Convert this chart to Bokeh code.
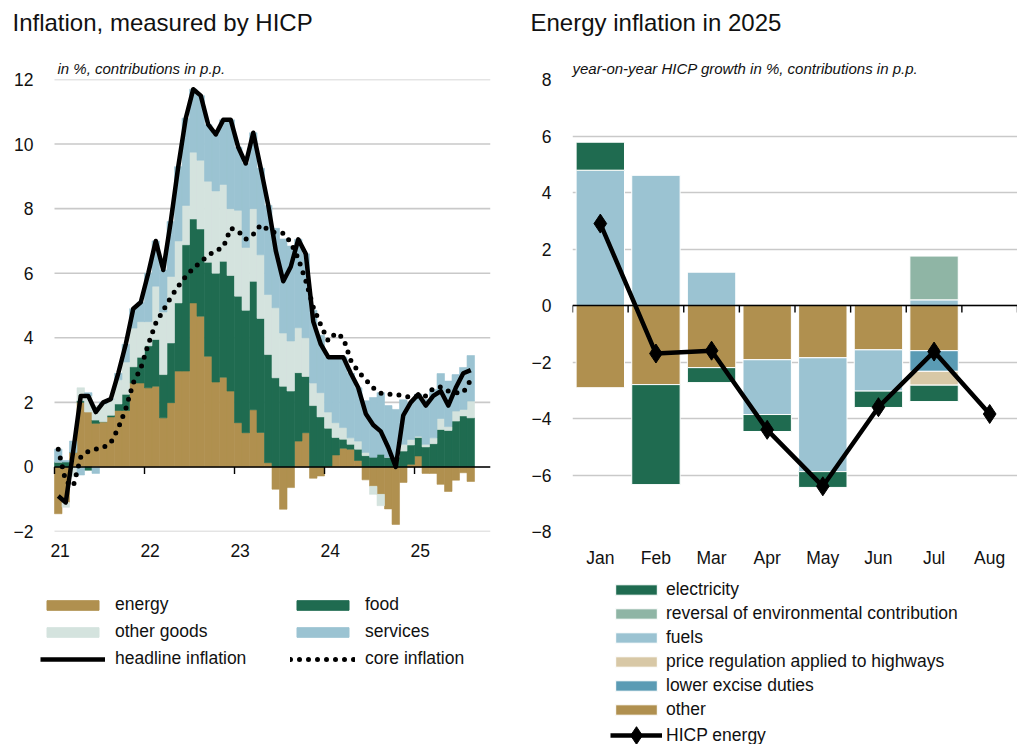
import numpy as np
from bokeh.plotting import figure
from bokeh.models import Legend, LegendItem, FixedTicker, Range1d
from bokeh.layouts import row, column
from bokeh.embed import file_html
from bokeh.resources import INLINE

FONT = "Liberation Sans"
TXT = "#111111"

# ---------------- LEFT CHART DATA (monthly, Jan 2021 - Aug 2025) ----------------
year_labels = ["21", "22", "23", "24", "25"]
energy = [-1.45, -1.1, 0.45, 2.0, 1.7, 1.35, 1.4, 1.55, 1.75, 1.75, 2.6, 2.6,
          2.45, 2.5, 1.52, 1.99, 2.97, 2.97, 5.08, 4.67, 3.43, 2.63, 2.78, 2.35,
          1.37, 1.06, 1.77, 1.07, 0.13, -0.69, -1.31, -0.64, 0.8, 1.06, -0.35, -0.28,
          0.02, 0.37, 0.58, 0.55, 0.2, -0.4, -0.6, -0.85, -1.3, -1.78, -0.48, 0.08,
          0.34, -0.2, -0.2, -0.54, -0.76, -0.41, -0.18, -0.45]
food = [0.15, 0.15, 0.0, 0.05, -0.1, 0.1, 0.0, 0.05, 0.2, 0.5, 0.5, 0.8,
        1.3, 1.45, 1.34, 1.85, 2.11, 3.91, 2.6, 2.7, 2.91, 3.37, 3.59, 3.58,
        3.92, 3.79, 3.98, 3.53, 3.35, 2.76, 2.5, 2.35, 2.12, 1.74, 1.9, 1.55,
        1.18, 0.54, 0.28, 0.15, 0.35, 0.35, 0.3, 0.39, 0.3, 0.31, 0.49, 0.6,
        0.57, 0.62, 0.72, 1.16, 1.13, 1.42, 1.58, 1.52]
other_goods = [0.0, -0.15, -0.3, 0.4, 0.5, 0.45, 0.55, 0.5, 0.75, 1.0, 1.2, 1.1,
               0.75, 1.65, 1.94, 2.06, 1.92, 1.22, 2.07, 2.13, 2.51, 2.55, 2.38, 2.07,
               2.66, 1.95, 2.25, 1.97, 1.86, 2.17, 1.65, 1.55, 1.39, 1.2, 0.7, 0.75,
               0.5, 0.46, 0.36, 0.2, 0.25, 0.1, -0.25, -0.35, 0.0, 0.0, 0.21, 0.17,
               0.04, 0.08, 0.18, 0.34, 0.12, 0.31, 0.2, 0.52]
services = [0.4, 0.05, 0.35, -0.25, 0.1, -0.2, 0.05, 0.0, 0.2, 0.55, 0.6, 0.6,
            1.5, 1.4, 1.3, 1.7, 2.3, 2.7, 1.95, 2.0, 1.75, 1.75, 2.0, 2.75,
            1.95, 2.6, 2.35, 2.68, 2.76, 2.46, 2.91, 2.94, 2.74, 2.6, 2.25, 1.78,
            1.7, 2.03, 2.18, 2.0, 1.65, 1.6, 1.85, 1.91, 1.6, 1.47, 1.38, 1.15,
            1.3, 1.4, 1.5, 1.39, 1.41, 1.13, 1.3, 1.41]
headline = [-0.9, -1.1, 0.5, 2.2, 2.2, 1.7, 2.0, 2.1, 2.9, 3.8, 4.9, 5.1,
            6.0, 7.0, 6.1, 7.6, 9.3, 10.8, 11.7, 11.5, 10.6, 10.3, 10.75, 10.75,
            9.9, 9.4, 10.35, 9.25, 8.1, 6.7, 5.75, 6.2, 7.05, 6.6, 4.5, 3.8,
            3.4, 3.4, 3.4, 2.9, 2.45, 1.65, 1.3, 1.1, 0.6, 0.0, 1.6, 2.0,
            2.25, 1.9, 2.2, 2.35, 1.9, 2.45, 2.9, 3.0]
core = [0.55, -0.45, -0.6, 0.3, 0.48, 0.55, 0.6, 0.75, 1.2, 1.8, 2.6, 3.05,
        3.8, 4.45, 4.85, 5.25, 5.6, 5.9, 6.15, 6.35, 6.55, 6.7, 6.8, 7.4,
        7.3, 7.05, 7.2, 7.5, 7.35, 7.24, 7.24, 6.95, 6.45, 5.77, 4.95, 4.4,
        3.9, 4.15, 4.0, 3.3, 2.95, 2.7, 2.45, 2.28, 2.25, 2.25, 2.2, 2.15,
        2.2, 2.2, 2.43, 2.48, 2.35, 2.3, 2.3, 2.7]

# ---------------- RIGHT CHART DATA (2025) ----------------
months = ["Jan", "Feb", "Mar", "Apr", "May", "Jun", "Jul", "Aug"]
electricity = [0.99, -3.54, -0.53, -0.6, -0.56, -0.58, -0.58]
env_reversal = [0.0, 0.0, 0.0, 0.0, 0.0, 0.0, 1.55]
fuels = [4.79, 4.62, 1.19, -1.94, -4.03, -1.46, 0.2]
highway_reg = [0.0, 0.0, 0.0, 0.0, 0.0, 0.0, -0.49]
excise = [0.0, 0.0, 0.0, 0.0, 0.0, 0.0, -0.73]
other_energy = [-2.91, -2.8, -2.2, -1.92, -1.85, -1.57, -1.6]
hicp_energy = [2.9, -1.7, -1.6, -4.4, -6.4, -3.6, -1.63, -3.84]

C_ENERGY = "#b0904f"
C_FOOD = "#1f6b50"
C_OTHER = "#d4e3de"
C_SERV = "#9bc3d2"
C_ENV = "#8fb5a5"
C_PRICE = "#d8c8a6"
C_EXCISE = "#5a9bb4"
GRID = "#c9c9c9"

# column geometry (all children of a column share borders and frame width)
L1, F1, R1 = 40, 450, 25
L2, F2, R2 = 57, 445, 0
HEAD_TOP = 40              # title strip: title box + 1px frame
FRAME_TOP = 79             # page y of the plot frames' top edge
NAN = np.array([np.nan])


def stack(components):
    n = len(components[0])
    pos = np.zeros(n)
    neg = np.zeros(n)
    out = []
    for vals in components:
        v = np.array(vals, dtype=float)
        bottom = np.where(v >= 0, pos, neg + v)
        top = np.where(v >= 0, pos + v, neg)
        pos = pos + np.clip(v, 0, None)
        neg = neg + np.clip(v, None, 0)
        out.append((bottom, top))
    return out


def blank(left, fw, right, top, fh):
    f = figure(frame_width=fw, frame_height=fh, min_border_left=left,
               min_border_right=right, min_border_top=top, min_border_bottom=0,
               toolbar_location=None, output_backend="svg",
               x_axis_location=None, y_axis_location=None,
               x_range=Range1d(0, fw), y_range=Range1d(0, fh))
    f.outline_line_color = None
    f.grid.visible = False
    return f


def header(left, fw, right, text, offset):
    h = blank(left, fw, right, HEAD_TOP, 1)
    h.title.text = text
    h.title.text_font = FONT
    h.title.text_font_size = "24px"
    h.title.text_font_style = "normal"
    h.title.text_color = TXT
    h.title.align = "left"
    h.title.offset = offset
    h.title.standoff = 10
    return h


def style_axes(p, yticks, overrides, standoff, subtitle, sub_offset):
    p.outline_line_color = None
    p.xgrid.visible = False
    p.ygrid.ticker = FixedTicker(ticks=yticks)
    p.ygrid.grid_line_color = GRID
    p.ygrid.grid_line_width = 1.6
    for ax in (p.xaxis[0], p.yaxis[0]):
        ax.axis_line_color = None
        ax.major_tick_line_color = None
        ax.minor_tick_line_color = None
        ax.major_tick_in = 0
        ax.major_tick_out = 0
        ax.major_label_text_font = FONT
        ax.major_label_text_font_size = "17.5px"
        ax.major_label_text_color = TXT
    p.yaxis[0].ticker = FixedTicker(ticks=yticks)
    p.yaxis[0].major_label_overrides = overrides
    p.yaxis[0].major_label_standoff = standoff
    p.title.text = subtitle
    p.title.text_font = FONT
    p.title.text_font_style = "italic"
    p.title.text_font_size = "15px"
    p.title.text_color = TXT
    p.title.align = "left"
    p.title.offset = sub_offset
    p.title.standoff = 5


def legend_common():
    return dict(margin=0, padding=0, background_fill_alpha=0,
                border_line_color=None, label_text_font=FONT,
                label_text_font_size="17.5px", label_text_color=TXT, label_height=20)


# ======================= LEFT CHART =======================
n = len(headline)
xl = np.arange(n, dtype=float)
xc = xl + 0.5
x_end = 58.13
year_ticks = [12.0 * k for k in range(len(year_labels))]
label_pos = [t + 0.75 for t in year_ticks]
yt1 = list(range(-2, 13, 2))

p1 = figure(frame_width=F1, frame_height=452, min_border_left=L1, min_border_right=R1,
            min_border_top=FRAME_TOP - HEAD_TOP - 1, min_border_bottom=40,
            toolbar_location=None, output_backend="svg",
            x_range=Range1d(-14 / 7.5, x_end), y_range=Range1d(-2, 12))
style_axes(p1, yt1, {-2: "\u22122"}, 7, "in %, contributions in p.p.", 17)
p1.ygrid.visible = False
p1.xaxis[0].ticker = FixedTicker(ticks=label_pos)
p1.xaxis[0].major_label_overrides = {lp: yl for lp, yl in zip(label_pos, year_labels)}
p1.xaxis[0].major_label_standoff = 12

p1.segment(x0=[0.0] * len(yt1), x1=[x_end] * len(yt1), y0=yt1, y1=yt1,
           line_color=GRID, line_width=1.6)

left_cols = [C_ENERGY, C_FOOD, C_OTHER, C_SERV]
stacks = stack([energy, food, other_goods, services])
for (b, t), col in zip(stacks, left_cols):
    p1.quad(left=xl, right=xl + 1, bottom=b, top=t, fill_color=col,
            line_color=col, line_width=0.6)

p1.segment(x0=[0.0], x1=[x_end], y0=[0.0], y1=[0.0], line_color="black", line_width=1.6)
p1.segment(x0=year_ticks, x1=year_ticks, y0=[0] * len(year_ticks),
           y1=[-0.22] * len(year_ticks), line_color="black", line_width=1.4)

p1.line(xc, headline, line_color="black", line_width=4.5, line_join="round")
p1.line(xc, core, line_color="black", line_width=5, line_dash="0 9", line_cap="round")

# legend strip for the left chart (legend sits at the frame's top-left corner)
lf1 = blank(L1, F1, R1, 23, 90)
lr = {}
for name, col in zip(["energy", "food", "other goods", "services"], left_cols):
    lr[name] = lf1.quad(left=NAN, right=NAN, bottom=NAN, top=NAN,
                        fill_color=col, line_color=col)
lr["headline"] = lf1.line(x=NAN, y=NAN, line_color="black", line_width=4.5)
lr["core"] = lf1.line(x=NAN, y=NAN, line_color="black", line_width=5, line_dash="0 9",
                      line_cap="round")
leg1 = Legend(items=[LegendItem(label="energy", renderers=[lr["energy"]]),
                     LegendItem(label="food", renderers=[lr["food"]]),
                     LegendItem(label="other goods", renderers=[lr["other goods"]]),
                     LegendItem(label="services", renderers=[lr["services"]]),
                     LegendItem(label="headline inflation", renderers=[lr["headline"]]),
                     LegendItem(label="core inflation", renderers=[lr["core"]])],
              location="top_left", orientation="horizontal", ncols=2,
              glyph_width=65, glyph_height=12, label_standoff=10, label_width=169,
              spacing=6, **legend_common())
lf1.add_layout(leg1, "center")

# ======================= RIGHT CHART =======================
m = len(electricity)
xm = np.arange(m, dtype=float)
cat_centers = [i + 0.5 for i in range(len(months))]
bounds = [float(i) for i in range(len(months) + 1)]
yt2 = list(range(-8, 9, 2))

p2 = figure(frame_width=F2, frame_height=452, min_border_left=L2, min_border_right=R2,
            min_border_top=FRAME_TOP - HEAD_TOP - 1, min_border_bottom=36,
            toolbar_location=None, output_backend="svg",
            x_range=Range1d(0, len(months)), y_range=Range1d(-8, 8))
style_axes(p2, yt2, {v: "\u2212" + str(-v) for v in range(-8, 0, 2)}, 21,
           "year-on-year HICP growth in %, contributions in p.p.", 0)
p2.xaxis[0].ticker = FixedTicker(ticks=cat_centers)
p2.xaxis[0].major_label_overrides = {c: mm for c, mm in zip(cat_centers, months)}
p2.xaxis[0].major_label_standoff = 16

right_comp = [other_energy, excise, highway_reg, fuels, env_reversal, electricity]
right_colors = [C_ENERGY, C_EXCISE, C_PRICE, C_SERV, C_ENV, C_FOOD]
rstacks = stack(right_comp)
for (b, t), col in zip(rstacks, right_colors):
    p2.quad(left=xm + 0.065, right=xm + 0.935, bottom=b, top=t,
            fill_color=col, line_color="white", line_width=1)

p2.segment(x0=[0.0], x1=[float(len(months))], y0=[0.0], y1=[0.0],
           line_color="black", line_width=1.6)
p2.segment(x0=bounds, x1=bounds, y0=[0] * len(bounds), y1=[-0.25] * len(bounds),
           line_color="black", line_width=1.4)

p2.line(cat_centers, hicp_energy, line_color="black", line_width=4.5, line_join="round")
p2.scatter(cat_centers, hicp_energy, marker="diamond", size=19,
           fill_color="black", line_color="black")

# legend strip for the right chart (page y 567 .. 744)
lf2 = blank(L2, F2, R2, 0, 177)
rnames = ["electricity", "reversal of environmental contribution", "fuels",
          "price regulation applied to highways", "lower excise duties", "other"]
rcols = [C_FOOD, C_ENV, C_SERV, C_PRICE, C_EXCISE, C_ENERGY]
items2 = []
for name, col in zip(rnames, rcols):
    r = lf2.quad(left=NAN, right=NAN, bottom=NAN, top=NAN, fill_color=col,
                 line_color="white", line_width=1)
    items2.append(LegendItem(label=name, renderers=[r]))
leg2 = Legend(items=items2, location=(38, 27), orientation="vertical",
              glyph_width=52, glyph_height=13, label_standoff=4, spacing=3,
              **legend_common())
lf2.add_layout(leg2, "center")

# the HICP energy entry needs a taller glyph box so that its diamond is full size
rl = lf2.line(x=NAN, y=NAN, line_color="black", line_width=4.5)
rm = lf2.scatter(x=NAN, y=NAN, marker="diamond", size=19, fill_color="black",
                 line_color="black")
leg3 = Legend(items=[LegendItem(label="HICP energy", renderers=[rl, rm])],
              location=(38, -10), orientation="vertical",
              glyph_width=52, glyph_height=44, label_standoff=4, spacing=0,
              **legend_common())
lf2.add_layout(leg3, "center")

layout = row(column(header(L1, F1, R1, "Inflation, measured by HICP", 12 - L1), p1, lf1),
             column(header(L2, F2, R2, "Energy inflation in 2025", 530 - 515 - L2), p2, lf2))
open("out.html", "w").write(file_html(layout, INLINE))
